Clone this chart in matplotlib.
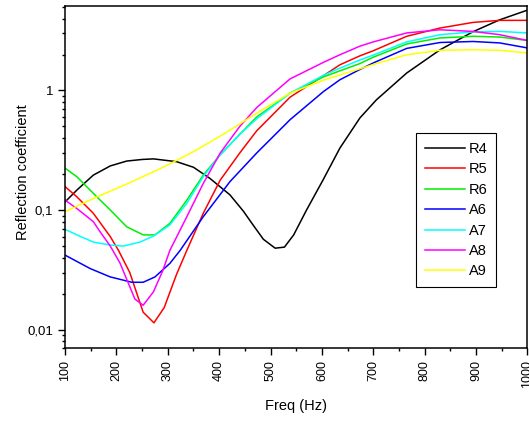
import matplotlib
matplotlib.use("Agg")
import matplotlib.pyplot as plt
from matplotlib.ticker import FixedLocator, FixedFormatter, LogLocator, NullFormatter

plt.rcParams['font.family'] = ['Liberation Sans', 'DejaVu Sans']

# data (freq in Hz, reflection coefficient)
r4_f = [100, 123, 155, 188, 220, 250, 272, 317, 350, 382, 421, 447, 466, 486, 509, 527, 545, 570, 602, 635, 674, 706, 765, 830, 894, 946, 1000]
r4_v = [0.117, 0.147, 0.196, 0.234, 0.257, 0.265, 0.268, 0.254, 0.228, 0.184, 0.134, 0.098, 0.075, 0.057, 0.048, 0.049, 0.062, 0.1, 0.178, 0.33, 0.59, 0.835, 1.4, 2.19, 3.1, 3.9, 4.7]

r5_f = [100, 123, 155, 188, 204, 226, 252, 273, 293, 317, 337, 369, 402, 440, 473, 538, 603, 635, 674, 700, 765, 830, 894, 946, 1000]
r5_v = [0.157, 0.129, 0.094, 0.06, 0.046, 0.03, 0.014, 0.0114, 0.0153, 0.029, 0.046, 0.094, 0.178, 0.3, 0.46, 0.88, 1.33, 1.64, 1.95, 2.15, 2.84, 3.33, 3.71, 3.86, 3.86]

r6_f = [100, 123, 155, 188, 220, 252, 275, 304, 337, 369, 402, 440, 473, 538, 603, 635, 674, 700, 765, 830, 894, 946, 1000]
r6_v = [0.224, 0.19, 0.138, 0.1, 0.0725, 0.062, 0.062, 0.0774, 0.121, 0.196, 0.29, 0.43, 0.6, 0.95, 1.3, 1.46, 1.68, 1.9, 2.45, 2.75, 2.84, 2.8, 2.62]

a6_f = [100, 149, 188, 230, 252, 275, 304, 324, 369, 421, 473, 538, 603, 635, 674, 700, 765, 830, 894, 946, 1000]
a6_v = [0.042, 0.0324, 0.0276, 0.0249, 0.0249, 0.0276, 0.0358, 0.046, 0.088, 0.173, 0.3, 0.57, 0.98, 1.23, 1.5, 1.7, 2.25, 2.52, 2.57, 2.5, 2.27]

a7_f = [100, 123, 155, 188, 213, 246, 272, 304, 337, 369, 402, 440, 473, 538, 603, 635, 674, 700, 765, 830, 894, 946, 1000]
a7_v = [0.069, 0.062, 0.054, 0.051, 0.05, 0.054, 0.0606, 0.075, 0.114, 0.19, 0.29, 0.43, 0.58, 0.95, 1.34, 1.54, 1.8, 1.98, 2.55, 2.93, 3.09, 3.12, 3.03]

a8_f = [100, 123, 155, 168, 188, 207, 236, 252, 272, 290, 304, 337, 369, 402, 440, 473, 538, 603, 635, 674, 700, 765, 830, 894, 946, 1000]
a8_v = [0.121, 0.103, 0.08, 0.066, 0.05, 0.036, 0.018, 0.016, 0.0207, 0.031, 0.046, 0.088, 0.167, 0.3, 0.5, 0.72, 1.25, 1.72, 1.99, 2.35, 2.55, 3.03, 3.22, 3.12, 2.93, 2.62]

a9_f = [100, 155, 220, 285, 317, 350, 408, 473, 538, 603, 635, 674, 700, 765, 830, 894, 946, 1000]
a9_v = [0.097, 0.125, 0.165, 0.222, 0.26, 0.308, 0.43, 0.646, 0.95, 1.22, 1.35, 1.52, 1.65, 1.99, 2.17, 2.19, 2.17, 2.06]

series = [("R4", r4_f, r4_v, "#000000"),
          ("R5", r5_f, r5_v, "#ff0000"),
          ("R6", r6_f, r6_v, "#00ee00"),
          ("A6", a6_f, a6_v, "#0000ff"),
          ("A7", a7_f, a7_v, "#00ffff"),
          ("A8", a8_f, a8_v, "#ff00ff"),
          ("A9", a9_f, a9_v, "#ffff00")]

x_ticks = [100, 200, 300, 400, 500, 600, 700, 800, 900, 1000]
y_ticks = [0.01, 0.1, 1]
y_labels = ["0,01", "0,1", "1"]

fig = plt.figure(figsize=(5.29, 4.21), dpi=100)
ax = fig.add_axes([0.123, 0.173, 0.874, 0.813])

for name, f, v, c in series:
    ax.plot(f, v, color=c, linewidth=1.1, label=name)

ax.set_yscale('log')
ax.set_xlim(100, 1000)
ax.set_ylim(0.007, 5.1)

ax.xaxis.set_major_locator(FixedLocator(x_ticks))
ax.xaxis.set_minor_locator(FixedLocator([x + 50 for x in x_ticks[:-1]]))
ax.set_xticklabels([str(x) for x in x_ticks], rotation=90, fontsize=9)

ax.yaxis.set_major_locator(FixedLocator(y_ticks))
ax.yaxis.set_major_formatter(FixedFormatter(y_labels))
ax.yaxis.set_minor_locator(LogLocator(base=10, subs=range(2, 10)))
ax.yaxis.set_minor_formatter(NullFormatter())
ax.tick_params(axis='y', labelsize=9.5)

ax.tick_params(which='major', direction='out', length=5, width=1)
ax.tick_params(which='minor', direction='out', length=2.5, width=1)
ax.tick_params(top=False, right=False, which='both')
for s in ax.spines.values():
    s.set_linewidth(1.1)

ax.set_xlabel("Freq (Hz)", fontsize=10.5, labelpad=8)
ax.set_ylabel("Reflection coefficient", fontsize=10.5)
ax.yaxis.set_label_coords(-0.076, 0.513)

leg = ax.legend(loc='upper left', bbox_to_anchor=(0.76, 0.628), fontsize=10.5,
                frameon=True, fancybox=False, edgecolor='black', framealpha=1,
                handlelength=2.7, handletextpad=0.3, labelspacing=0.44,
                borderpad=0.6, borderaxespad=0)
leg.get_frame().set_linewidth(0.8)

fig.savefig("out.png", dpi=100)
